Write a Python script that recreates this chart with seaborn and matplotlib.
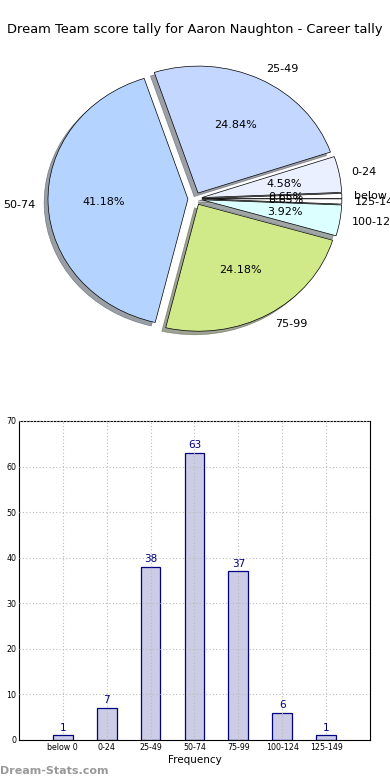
import matplotlib
matplotlib.use('Agg')
import matplotlib.pyplot as plt
import seaborn as sns
import pandas as pd

# score buckets and how many games fell in each
categories = ['below 0', '0-24', '25-49', '50-74', '75-99', '100-124', '125-149']
counts = [1, 7, 38, 63, 37, 6, 1]
slice_colors = ['#ffffff', '#eaf0ff', '#c4d8ff', '#b4d4ff', '#d0ea8a', '#dcffff', '#ffffff']
title = 'Dream Team score tally for Aaron Naughton - Career tally'

sns.set_style('white')
plt.rcParams['font.family'] = ['DejaVu Sans']
plt.rcParams['text.color'] = 'black'
plt.rcParams['xtick.color'] = 'black'
plt.rcParams['ytick.color'] = 'black'
plt.rcParams['axes.labelcolor'] = 'black'

fig = plt.figure(figsize=(3.9, 7.8), dpi=100)

# top: pie
ax1 = fig.add_axes([0.0513, 0.5417, 0.897, 0.407])
wedges, texts, autotexts = ax1.pie(
    counts, labels=categories, colors=slice_colors, explode=[0.05] * len(counts),
    autopct='%.2f%%', pctdistance=0.6, labeldistance=1.09, shadow=True,
    startangle=0, counterclock=True,
    wedgeprops={'edgecolor': 'black', 'linewidth': 0.5},
    textprops={'fontsize': 8, 'color': 'black'})
ax1.set_aspect('auto')
ax1.set_xlim(-1.25, 1.25)
ax1.set_ylim(-1.25, 1.25)
for t in texts:
    t.set_clip_on(False)
fig.text(0.5, 0.962, title, ha='center', va='center', fontsize=9.4)

# bottom: bar chart
ax2 = fig.add_axes([0.0487, 0.0513, 0.9, 0.409])
df = pd.DataFrame({'bucket': categories, 'count': counts})
sns.barplot(data=df, x='bucket', y='count', ax=ax2, color='#cccce6',
            edgecolor='#000080', linewidth=0.9, width=0.45, saturation=1)
for i, v in enumerate(counts):
    ax2.text(i, v + 0.6, str(v), ha='center', va='bottom', color='#000080', fontsize=7.5)
ax2.set_xlim(-1, 7)
ax2.set_ylim(0, 70)
ax2.set_yticks(range(0, 71, 10))
ax2.set_xlabel('Frequency', fontsize=7.5, labelpad=2)
ax2.set_ylabel('')
ax2.tick_params(axis='both', labelsize=5.7, length=0, pad=2)
ax2.grid(True, linestyle=(0, (1, 2)), color='#bbbbbb', linewidth=0.8)
ax2.set_axisbelow(False)
for s in ax2.spines.values():
    s.set_color('black')
    s.set_linewidth(0.8)

fig.text(0.0, 0.012, 'Dream-Stats.com', ha='left', va='center', fontsize=8,
         color='#999999', fontweight='bold')

fig.savefig('out.png', dpi=100)
